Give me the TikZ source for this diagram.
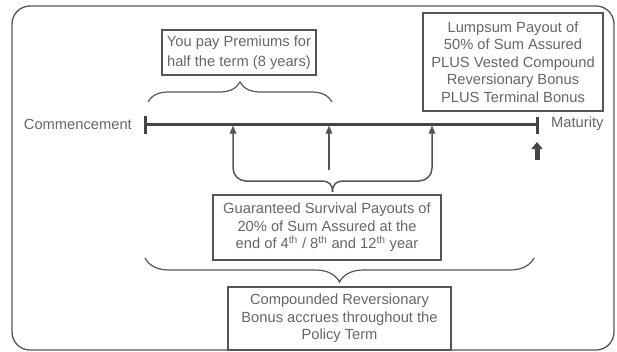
\documentclass[tikz,border=0pt]{standalone}
\usepackage{fontspec}
\setmainfont{Liberation Sans}
\usetikzlibrary{arrows.meta,decorations.pathreplacing}
\definecolor{linegray}{HTML}{555555}
\definecolor{textgray}{HTML}{666666}
\tikzset{
    infobox/.style = {draw = linegray, line width = 1.2pt, text = textgray, align = center, inner sep = 0pt, font = \fontsize{14.7}{17.5}\selectfont},
    tltext/.style = {text = textgray, inner sep = 2pt, font = \fontsize{14.7}{17.5}\selectfont},
    timeline/.style = {draw = linegray!80!black, line width = 3pt},
    conn/.style = {draw = linegray, line width = 1.5pt, -{Triangle[length = 8pt, width = 6.5pt]}},
    curly/.style = {draw = linegray, line width = 1.2pt, decorate, decoration = {brace, amplitude = #1}}
}
\begin{document}
\begin{tikzpicture}[x = 1pt, y = -1pt]
    \useasboundingbox (0, 0) rectangle (617, 351);
    \draw [linegray, line width = 1.3pt, rounded corners = 18pt] (12, 6) rectangle (614, 350);
    % boxes
    \node [infobox, minimum width = 154pt, minimum height = 45pt, font = \fontsize{14.7}{20}\selectfont] (premium) at (239, 52.5) {You pay Premiums for\\half the term (8 years)};
    \node [infobox, minimum width = 180pt, minimum height = 98pt] (lumpsum) at (513, 62) {Lumpsum Payout of\\50\% of Sum Assured\\PLUS Vested Compound\\Reversionary Bonus\\PLUS Terminal Bonus};
    \node [infobox, minimum width = 228pt, minimum height = 65pt] (survival) at (327, 227.5) {Guaranteed Survival Payouts of\\20\% of Sum Assured at the\\end of 4\textsuperscript{th} / 8\textsuperscript{th} and 12\textsuperscript{th} year};
    \node [infobox, minimum width = 223pt, minimum height = 63pt] (bonus) at (339.5, 318.5) {Compounded Reversionary\\Bonus accrues throughout the\\Policy Term};
    % timeline
    \coordinate (start) at (145, 124);
    \coordinate (end) at (537, 124);
    \draw [timeline] (start) -- (end);
    \draw [timeline] (start) ++(0, -8) -- ++(0, 18);
    \draw [timeline] (end) ++(0, -7) -- ++(0, 17);
    \node [tltext, anchor = east] (commence) at (134, 124) {Commencement};
    \node [tltext, anchor = west] (maturity) at (549, 124) {Maturity};
    % payouts
    \coordinate (p4) at (233, 125.5);
    \coordinate (p8) at (329, 125.5);
    \coordinate (p12) at (432, 125.5);
    \coordinate (m8) at (329, 170);
    \coordinate (gtip) at (332.5, 192);
    \draw [conn] (gtip) .. controls (332.5, 184) and (329, 181) .. (321, 181) [rounded corners = 13pt] -- (233, 181) -- (p4);
    \draw [conn] (gtip) .. controls (332.5, 184) and (336, 181) .. (344, 181) [rounded corners = 13pt] -- (432, 181) -- (p12);
    \draw [conn] (m8) -- (p8);
    % maturity payout
    \coordinate (matbase) at (537, 160);
    \coordinate (mattip) at (537, 142);
    \draw [linegray!80!black, line width = 5pt, -{Triangle[length = 7pt, width = 11pt]}] (matbase) -- (mattip);
    % braces
    \coordinate (paystart) at (148, 102);
    \coordinate (payend) at (332, 102);
    \draw [curly = 20pt] (paystart) -- (payend);
    \coordinate (termstart) at (145, 258);
    \coordinate (termend) at (534, 258);
    \draw [curly = 24pt] (termend) -- (termstart);
\end{tikzpicture}
\end{document}
